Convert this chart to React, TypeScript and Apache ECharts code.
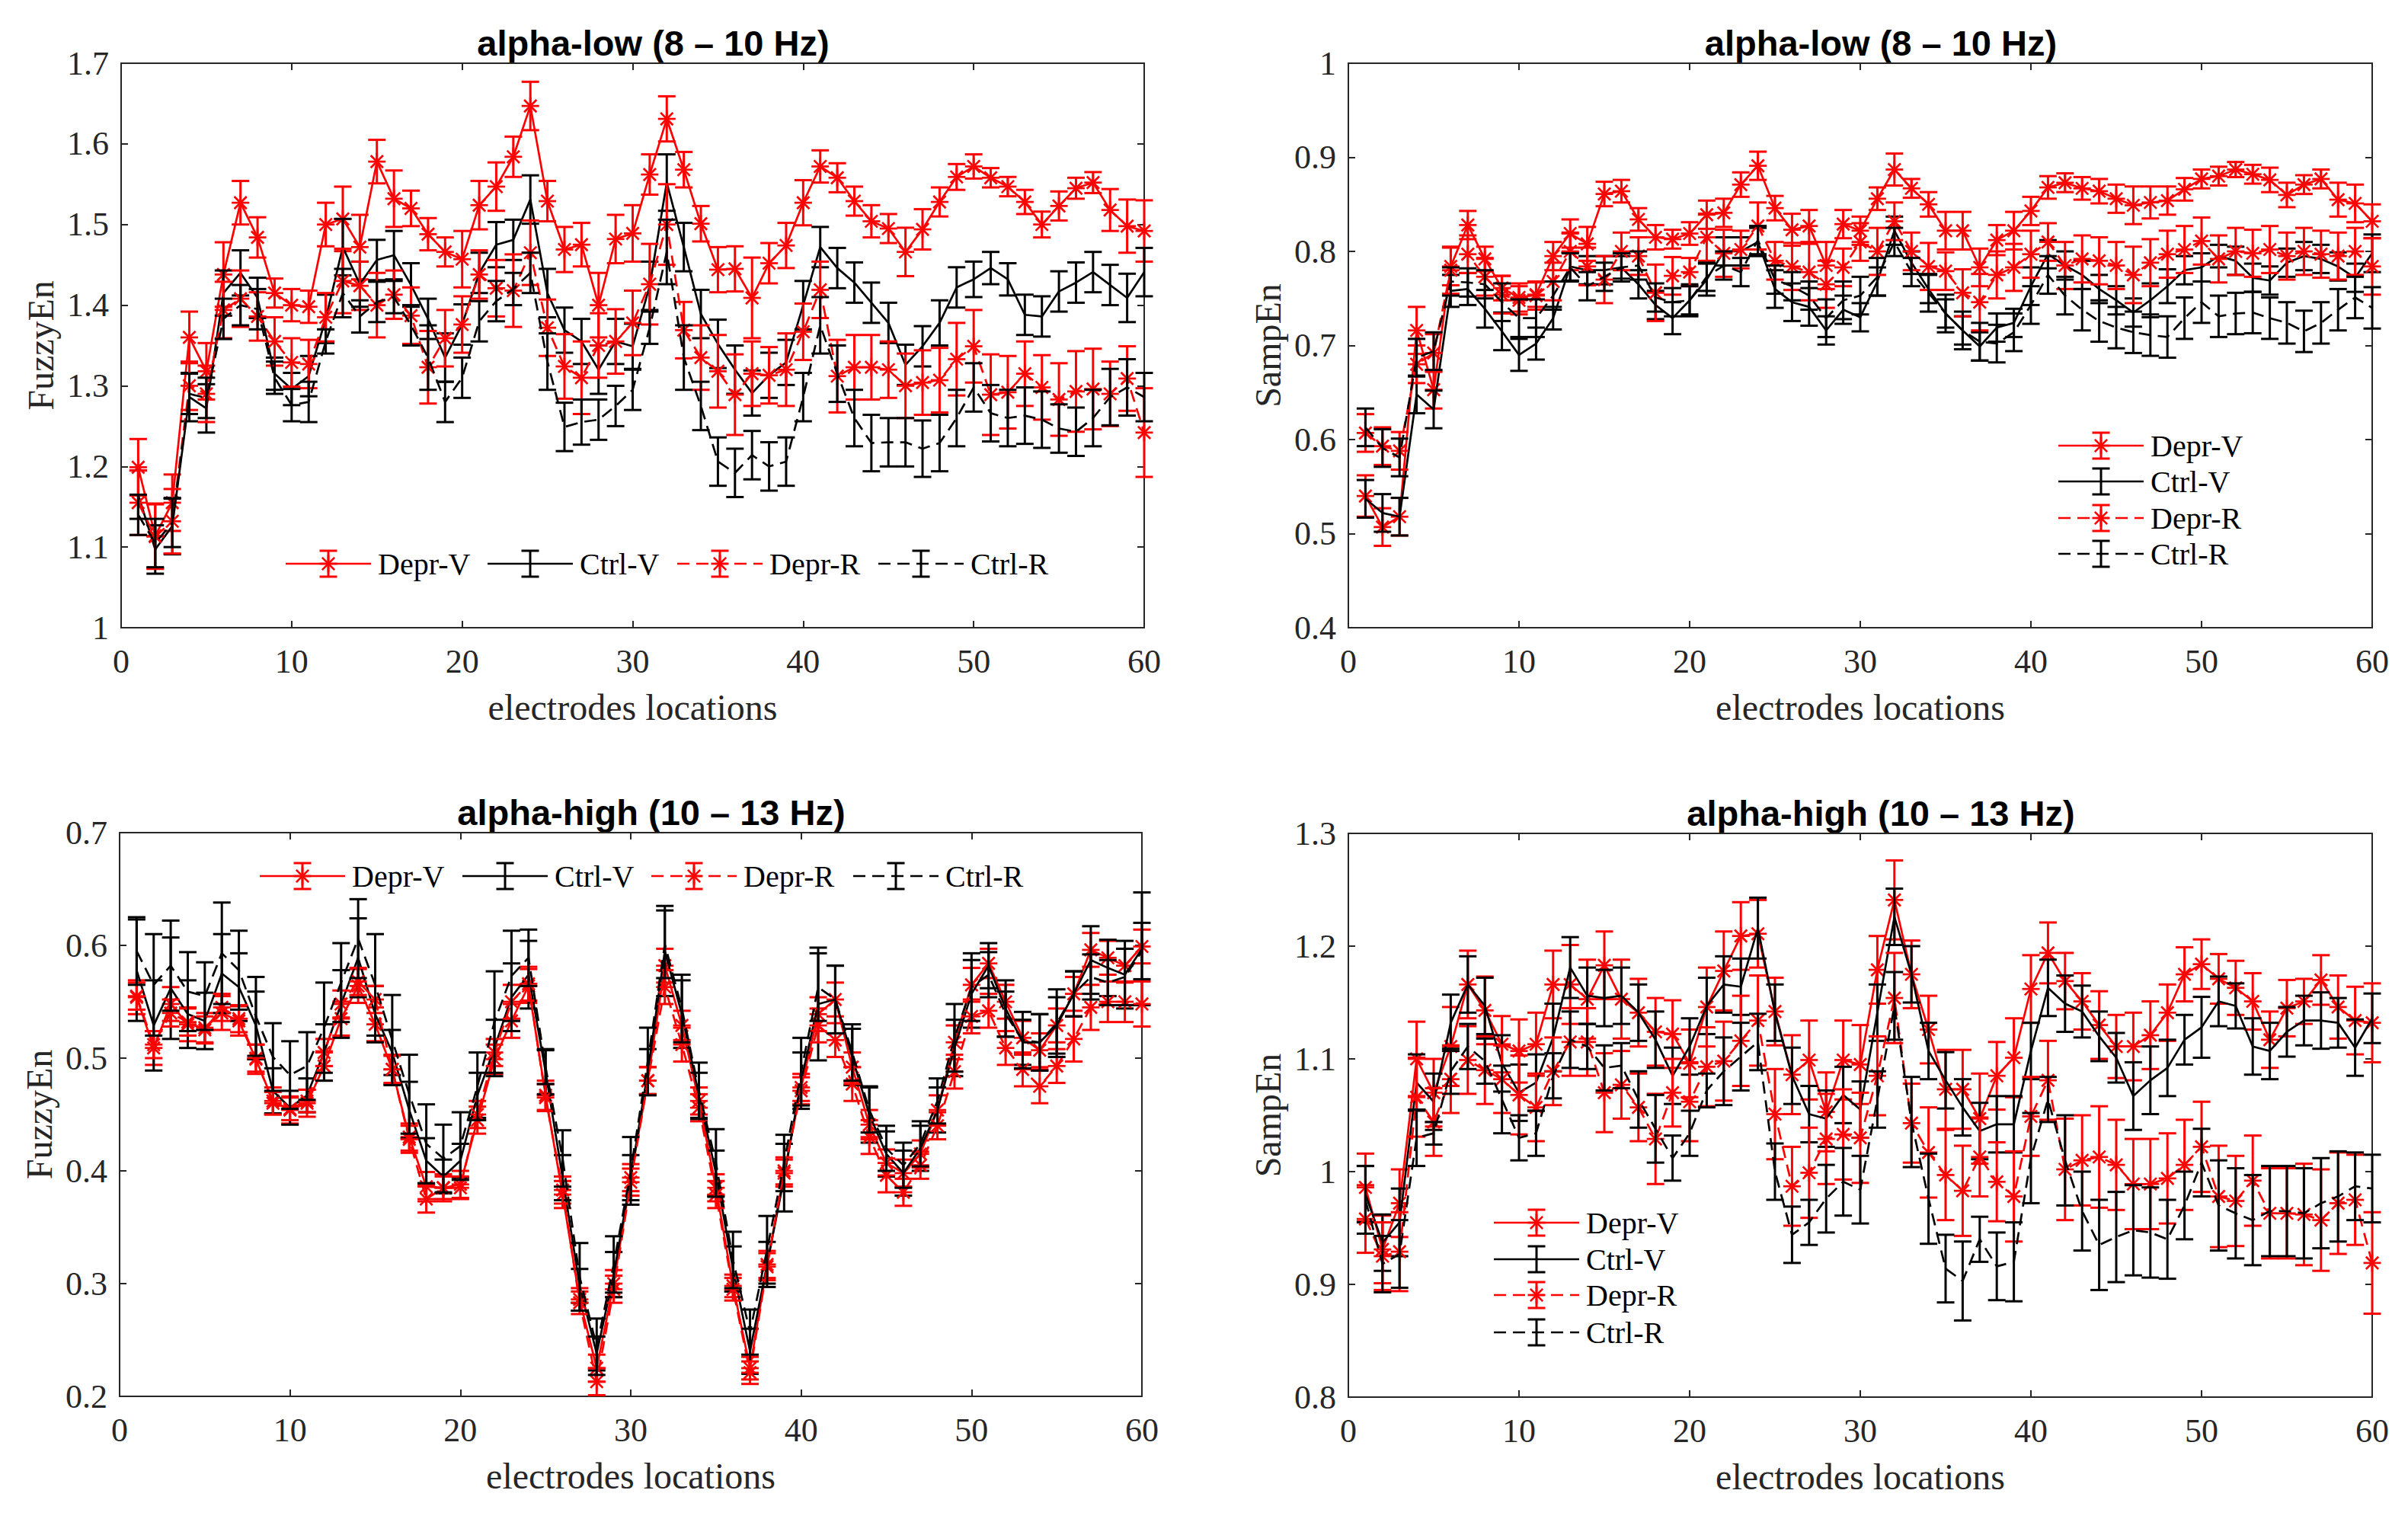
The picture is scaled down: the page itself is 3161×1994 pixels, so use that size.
import React, { useEffect, useRef } from "react";
import * as echarts from "echarts";

// ---------------- DATA ----------------
const ELECTRODES = [
  1, 2, 3, 4, 5, 6, 7, 8, 9, 10, 11, 12, 13, 14, 15, 16, 17, 18, 19, 20,
  21, 22, 23, 24, 25, 26, 27, 28, 29, 30, 31, 32, 33, 34, 35, 36, 37, 38, 39, 40,
  41, 42, 43, 44, 45, 46, 47, 48, 49, 50, 51, 52, 53, 54, 55, 56, 57, 58, 59, 60,
];
const SERIES_NAMES = ["Depr-V", "Ctrl-V", "Depr-R", "Ctrl-R"];
const PANEL_TITLES = [
  "alpha-low (8 \u2013 10 Hz)",
  "alpha-low (8 \u2013 10 Hz)",
  "alpha-high (10 \u2013 13 Hz)",
  "alpha-high (10 \u2013 13 Hz)",
];
const Y_NAMES = ["FuzzyEn", "SampEn", "FuzzyEn", "SampEn"];
const X_NAME = "electrodes locations";
const X_MIN = 0;
const X_MAX = 60;
const X_STEP = 10;
const Y_MIN = [1, 0.4, 0.2, 0.8];
const Y_MAX = [1.7, 1, 0.7, 1.3];
const Y_STEP = 0.1;

// Panel 1: alpha-low FuzzyEn
const P1_DEPR_V = [
  1.199, 1.114, 1.155, 1.36, 1.318, 1.438, 1.527, 1.484, 1.415, 1.40,
  1.398, 1.50, 1.507, 1.472, 1.578, 1.532, 1.52, 1.488, 1.466, 1.457,
  1.524, 1.547, 1.584, 1.647, 1.529, 1.469, 1.475, 1.40, 1.482, 1.489,
  1.562, 1.631, 1.568, 1.501, 1.444, 1.445, 1.409, 1.452, 1.474, 1.527,
  1.572, 1.558, 1.529, 1.504, 1.495, 1.466, 1.494, 1.528, 1.559, 1.572,
  1.558, 1.547, 1.528, 1.50, 1.523, 1.545, 1.552, 1.518, 1.498, 1.492,
];
const P1_DEPR_V_ERR = [
  0.035, 0.04, 0.035, 0.032, 0.035, 0.04, 0.027, 0.025, 0.018, 0.02,
  0.02, 0.027, 0.04, 0.04, 0.027, 0.035, 0.022, 0.02, 0.018, 0.035,
  0.03, 0.03, 0.025, 0.03, 0.025, 0.028, 0.027, 0.04, 0.03, 0.035,
  0.025, 0.028, 0.022, 0.022, 0.028, 0.028, 0.05, 0.025, 0.028, 0.028,
  0.02, 0.018, 0.018, 0.02, 0.018, 0.03, 0.025, 0.018, 0.016, 0.015,
  0.012, 0.012, 0.015, 0.016, 0.018, 0.013, 0.013, 0.026, 0.033, 0.038,
];
const P1_CTRL_V = [
  1.165, 1.097, 1.126, 1.286, 1.272, 1.415, 1.44, 1.409, 1.315, 1.296,
  1.312, 1.383, 1.472, 1.426, 1.456, 1.462, 1.425, 1.383, 1.335, 1.376,
  1.44, 1.475, 1.481, 1.531, 1.415, 1.369, 1.355, 1.32, 1.355, 1.349,
  1.424, 1.552, 1.472, 1.389, 1.352, 1.32, 1.291, 1.313, 1.329, 1.40,
  1.472, 1.446, 1.428, 1.403, 1.378, 1.326, 1.349, 1.378, 1.422, 1.432,
  1.446, 1.432, 1.388, 1.386, 1.417, 1.428, 1.441, 1.425, 1.409, 1.441,
];
const P1_CTRL_V_ERR = [
  0.03, 0.03, 0.035, 0.03, 0.03, 0.028, 0.028, 0.025, 0.02, 0.02,
  0.025, 0.03, 0.035, 0.028, 0.025, 0.03, 0.027, 0.025, 0.03, 0.025,
  0.025, 0.028, 0.025, 0.03, 0.03, 0.028, 0.028, 0.03, 0.028, 0.028,
  0.03, 0.035, 0.03, 0.03, 0.03, 0.03, 0.028, 0.028, 0.028, 0.03,
  0.025, 0.025, 0.025, 0.025, 0.025, 0.025, 0.025, 0.028, 0.025, 0.022,
  0.02, 0.02, 0.025, 0.025, 0.025, 0.025, 0.025, 0.025, 0.03, 0.03,
];
const P1_DEPR_R = [
  1.155, 1.113, 1.132, 1.30, 1.29, 1.394, 1.408, 1.386, 1.355, 1.329,
  1.327, 1.385, 1.43, 1.424, 1.40, 1.413, 1.387, 1.323, 1.359, 1.376,
  1.438, 1.421, 1.418, 1.465, 1.372, 1.324, 1.31, 1.35, 1.355, 1.378,
  1.426, 1.50, 1.369, 1.335, 1.318, 1.289, 1.315, 1.313, 1.32, 1.367,
  1.419, 1.312, 1.323, 1.323, 1.32, 1.30, 1.304, 1.307, 1.333, 1.349,
  1.289, 1.292, 1.315, 1.298, 1.283, 1.293, 1.296, 1.29, 1.309, 1.242,
];
const P1_DEPR_R_ERR = [
  0.04, 0.04, 0.04, 0.03, 0.035, 0.035, 0.035, 0.03, 0.03, 0.03,
  0.03, 0.03, 0.04, 0.03, 0.04, 0.03, 0.035, 0.045, 0.035, 0.035,
  0.03, 0.035, 0.045, 0.04, 0.035, 0.04, 0.045, 0.04, 0.04, 0.04,
  0.05, 0.05, 0.035, 0.04, 0.045, 0.05, 0.04, 0.035, 0.045, 0.035,
  0.035, 0.045, 0.04, 0.04, 0.035, 0.04, 0.04, 0.04, 0.045, 0.045,
  0.05, 0.045, 0.04, 0.04, 0.045, 0.05, 0.05, 0.04, 0.04, 0.055,
];
const P1_CTRL_R = [
  1.14, 1.105, 1.13, 1.29, 1.285, 1.383, 1.40, 1.395, 1.31, 1.276,
  1.28, 1.355, 1.415, 1.386, 1.404, 1.41, 1.375, 1.335, 1.28, 1.31,
  1.38, 1.405, 1.42, 1.44, 1.33, 1.249, 1.255, 1.258, 1.275, 1.295,
  1.372, 1.466, 1.335, 1.275, 1.206, 1.192, 1.214, 1.20, 1.206, 1.286,
  1.375, 1.315, 1.26, 1.229, 1.23, 1.23, 1.222, 1.229, 1.26, 1.298,
  1.266, 1.26, 1.263, 1.258, 1.247, 1.243, 1.26, 1.286, 1.298, 1.286,
];
const P1_CTRL_R_ERR = [
  0.025, 0.03, 0.03, 0.025, 0.025, 0.025, 0.025, 0.025, 0.02, 0.02,
  0.025, 0.015, 0.03, 0.02, 0.025, 0.02, 0.025, 0.04, 0.025, 0.025,
  0.025, 0.025, 0.02, 0.025, 0.035, 0.03, 0.028, 0.025, 0.025, 0.025,
  0.02, 0.04, 0.04, 0.03, 0.03, 0.03, 0.03, 0.03, 0.03, 0.03,
  0.035, 0.035, 0.035, 0.035, 0.03, 0.03, 0.035, 0.035, 0.035, 0.03,
  0.035, 0.035, 0.035, 0.035, 0.03, 0.03, 0.035, 0.035, 0.035, 0.03,
];

// Panel 2: alpha-low SampEn
const P2_DEPR_V = [
  0.54, 0.507, 0.518, 0.716, 0.653, 0.784, 0.828, 0.792, 0.761, 0.751,
  0.754, 0.795, 0.819, 0.808, 0.861, 0.864, 0.834, 0.815, 0.813, 0.819,
  0.839, 0.841, 0.871, 0.891, 0.846, 0.823, 0.827, 0.785, 0.829, 0.822,
  0.856, 0.887, 0.867, 0.85, 0.822, 0.822, 0.783, 0.812, 0.822, 0.843,
  0.868, 0.873, 0.867, 0.864, 0.856, 0.849, 0.852, 0.854, 0.866, 0.877,
  0.88, 0.887, 0.882, 0.876, 0.86, 0.871, 0.877, 0.855, 0.851, 0.832,
];
const P2_DEPR_V_ERR = [
  0.022, 0.02, 0.02, 0.025, 0.02, 0.02, 0.015, 0.013, 0.013, 0.015,
  0.013, 0.015, 0.015, 0.018, 0.013, 0.012, 0.012, 0.013, 0.01, 0.012,
  0.015, 0.015, 0.013, 0.015, 0.013, 0.017, 0.017, 0.025, 0.015, 0.015,
  0.012, 0.017, 0.01, 0.013, 0.02, 0.02, 0.02, 0.016, 0.02, 0.015,
  0.012, 0.01, 0.012, 0.013, 0.015, 0.02, 0.017, 0.015, 0.012, 0.01,
  0.01, 0.008, 0.01, 0.013, 0.013, 0.01, 0.01, 0.018, 0.02, 0.018,
];
const P2_CTRL_V = [
  0.537, 0.522, 0.518, 0.648, 0.632, 0.758, 0.76, 0.739, 0.715, 0.69,
  0.702, 0.729, 0.784, 0.78, 0.78, 0.783, 0.765, 0.743, 0.729, 0.748,
  0.77, 0.80, 0.80, 0.81, 0.76, 0.746, 0.741, 0.716, 0.738, 0.73,
  0.768, 0.822, 0.788, 0.76, 0.734, 0.716, 0.699, 0.719, 0.724, 0.763,
  0.797, 0.785, 0.775, 0.76, 0.748, 0.735, 0.748, 0.763, 0.78, 0.783,
  0.795, 0.79, 0.772, 0.769, 0.788, 0.795, 0.792, 0.784, 0.772, 0.798,
];
const P2_CTRL_V_ERR = [
  0.02, 0.02, 0.02, 0.02, 0.02, 0.017, 0.017, 0.02, 0.02, 0.017,
  0.017, 0.012, 0.015, 0.015, 0.015, 0.012, 0.015, 0.015, 0.017, 0.017,
  0.017, 0.015, 0.015, 0.015, 0.02, 0.02, 0.02, 0.015, 0.015, 0.015,
  0.015, 0.015, 0.012, 0.015, 0.015, 0.015, 0.015, 0.015, 0.015, 0.02,
  0.015, 0.015, 0.015, 0.015, 0.015, 0.015, 0.018, 0.018, 0.015, 0.015,
  0.012, 0.015, 0.015, 0.015, 0.015, 0.015, 0.015, 0.015, 0.015, 0.02,
];
const P2_DEPR_R = [
  0.607, 0.593, 0.588, 0.68, 0.692, 0.78, 0.797, 0.773, 0.754, 0.748,
  0.753, 0.768, 0.80, 0.784, 0.77, 0.80, 0.795, 0.756, 0.774, 0.778,
  0.815, 0.798, 0.802, 0.827, 0.79, 0.784, 0.778, 0.765, 0.783, 0.81,
  0.80, 0.832, 0.80, 0.784, 0.779, 0.756, 0.746, 0.775, 0.783, 0.797,
  0.81, 0.785, 0.792, 0.79, 0.785, 0.775, 0.788, 0.797, 0.802, 0.811,
  0.792, 0.80, 0.798, 0.802, 0.795, 0.80, 0.797, 0.795, 0.80, 0.784,
];
const P2_DEPR_R_ERR = [
  0.02, 0.02, 0.02, 0.02, 0.02, 0.025, 0.02, 0.02, 0.02, 0.015,
  0.015, 0.02, 0.02, 0.02, 0.025, 0.02, 0.02, 0.03, 0.02, 0.015,
  0.025, 0.025, 0.02, 0.025, 0.02, 0.025, 0.03, 0.025, 0.02, 0.02,
  0.025, 0.02, 0.02, 0.025, 0.02, 0.025, 0.03, 0.025, 0.025, 0.025,
  0.02, 0.025, 0.025, 0.025, 0.025, 0.03, 0.025, 0.025, 0.025, 0.025,
  0.025, 0.025, 0.025, 0.025, 0.025, 0.025, 0.025, 0.025, 0.025, 0.03,
];
const P2_CTRL_R = [
  0.613, 0.591, 0.581, 0.687, 0.694, 0.768, 0.767, 0.765, 0.746, 0.729,
  0.729, 0.753, 0.783, 0.763, 0.773, 0.783, 0.785, 0.751, 0.746, 0.748,
  0.773, 0.785, 0.778, 0.812, 0.77, 0.763, 0.753, 0.729, 0.748, 0.753,
  0.773, 0.81, 0.778, 0.756, 0.734, 0.716, 0.704, 0.702, 0.714, 0.743,
  0.775, 0.753, 0.738, 0.726, 0.719, 0.714, 0.711, 0.709, 0.729, 0.746,
  0.731, 0.734, 0.735, 0.729, 0.724, 0.715, 0.724, 0.738, 0.751, 0.74,
];
const P2_CTRL_R_ERR = [
  0.02, 0.02, 0.02, 0.02, 0.02, 0.015, 0.015, 0.015, 0.02, 0.02,
  0.02, 0.015, 0.015, 0.015, 0.015, 0.015, 0.015, 0.015, 0.015, 0.015,
  0.015, 0.015, 0.015, 0.015, 0.015, 0.015, 0.015, 0.02, 0.02, 0.02,
  0.02, 0.015, 0.015, 0.02, 0.02, 0.02, 0.02, 0.02, 0.02, 0.02,
  0.02, 0.02, 0.022, 0.022, 0.022, 0.022, 0.022, 0.022, 0.022, 0.022,
  0.022, 0.022, 0.022, 0.022, 0.022, 0.022, 0.022, 0.022, 0.022, 0.022,
];

// Panel 3: alpha-high FuzzyEn
const P3_DEPR_V = [
  0.554, 0.509, 0.548, 0.53, 0.527, 0.54, 0.533, 0.499, 0.462, 0.454,
  0.46, 0.493, 0.535, 0.564, 0.53, 0.49, 0.43, 0.386, 0.385, 0.388,
  0.445, 0.499, 0.533, 0.564, 0.467, 0.379, 0.286, 0.225, 0.30, 0.394,
  0.48, 0.582, 0.529, 0.462, 0.385, 0.298, 0.225, 0.317, 0.398, 0.474,
  0.539, 0.552, 0.492, 0.441, 0.407, 0.398, 0.415, 0.454, 0.514, 0.565,
  0.584, 0.55, 0.518, 0.507, 0.529, 0.557, 0.596, 0.589, 0.582, 0.599,
];
const P3_DEPR_V_ERR = [
  0.015, 0.015, 0.015, 0.015, 0.013, 0.015, 0.013, 0.013, 0.012, 0.012,
  0.012, 0.013, 0.015, 0.015, 0.015, 0.013, 0.012, 0.013, 0.012, 0.012,
  0.012, 0.013, 0.015, 0.015, 0.013, 0.012, 0.01, 0.012, 0.012, 0.012,
  0.012, 0.015, 0.013, 0.012, 0.012, 0.01, 0.01, 0.012, 0.012, 0.012,
  0.015, 0.015, 0.013, 0.013, 0.012, 0.012, 0.012, 0.013, 0.015, 0.015,
  0.013, 0.015, 0.015, 0.015, 0.015, 0.015, 0.015, 0.015, 0.015, 0.015,
];
const P3_CTRL_V = [
  0.578, 0.529, 0.562, 0.539, 0.533, 0.575, 0.563, 0.529, 0.471, 0.456,
  0.467, 0.505, 0.548, 0.589, 0.539, 0.505, 0.454, 0.409, 0.395, 0.409,
  0.467, 0.509, 0.554, 0.574, 0.488, 0.394, 0.298, 0.238, 0.308, 0.394,
  0.488, 0.595, 0.539, 0.467, 0.398, 0.313, 0.24, 0.317, 0.394, 0.48,
  0.548, 0.552, 0.501, 0.45, 0.415, 0.398, 0.42, 0.454, 0.509, 0.557,
  0.582, 0.544, 0.514, 0.514, 0.529, 0.557, 0.587, 0.58, 0.574, 0.597,
];
const P3_CTRL_V_ERR = [
  0.045, 0.04, 0.045, 0.03, 0.025, 0.035, 0.03, 0.03, 0.02, 0.015,
  0.015, 0.025, 0.03, 0.035, 0.025, 0.02, 0.025, 0.02, 0.015, 0.015,
  0.02, 0.025, 0.03, 0.03, 0.02, 0.02, 0.015, 0.015, 0.02, 0.02,
  0.02, 0.04, 0.03, 0.02, 0.02, 0.02, 0.02, 0.02, 0.03, 0.025,
  0.05, 0.03, 0.025, 0.025, 0.02, 0.02, 0.02, 0.02, 0.025, 0.03,
  0.02, 0.025, 0.02, 0.025, 0.025, 0.02, 0.03, 0.025, 0.03, 0.05,
];
const P3_DEPR_R = [
  0.555, 0.512, 0.54, 0.532, 0.525, 0.545, 0.535, 0.50, 0.46, 0.455,
  0.462, 0.505, 0.548, 0.568, 0.552, 0.49, 0.428, 0.375, 0.385, 0.385,
  0.45, 0.505, 0.55, 0.566, 0.465, 0.383, 0.283, 0.213, 0.295, 0.39,
  0.48, 0.563, 0.512, 0.456, 0.379, 0.295, 0.221, 0.315, 0.40, 0.471,
  0.529, 0.516, 0.477, 0.43, 0.396, 0.381, 0.405, 0.44, 0.488, 0.537,
  0.542, 0.509, 0.49, 0.475, 0.493, 0.517, 0.545, 0.55, 0.55, 0.548,
];
const P3_DEPR_R_ERR = [
  0.012, 0.012, 0.012, 0.012, 0.012, 0.012, 0.012, 0.012, 0.01, 0.01,
  0.01, 0.012, 0.012, 0.012, 0.012, 0.012, 0.012, 0.012, 0.01, 0.01,
  0.012, 0.012, 0.015, 0.015, 0.012, 0.012, 0.01, 0.012, 0.012, 0.012,
  0.012, 0.015, 0.015, 0.012, 0.012, 0.01, 0.01, 0.012, 0.012, 0.012,
  0.015, 0.015, 0.015, 0.015, 0.015, 0.012, 0.012, 0.012, 0.015, 0.015,
  0.015, 0.015, 0.015, 0.015, 0.015, 0.02, 0.02, 0.018, 0.018, 0.02,
];
const P3_CTRL_R = [
  0.595, 0.565, 0.582, 0.559, 0.555, 0.593, 0.578, 0.537, 0.501, 0.485,
  0.493, 0.527, 0.567, 0.606, 0.565, 0.516, 0.468, 0.424, 0.411, 0.422,
  0.475, 0.532, 0.573, 0.589, 0.492, 0.411, 0.306, 0.244, 0.317, 0.40,
  0.497, 0.601, 0.544, 0.471, 0.407, 0.321, 0.257, 0.33, 0.407, 0.488,
  0.563, 0.552, 0.505, 0.454, 0.42, 0.405, 0.424, 0.462, 0.518, 0.563,
  0.574, 0.539, 0.516, 0.514, 0.531, 0.557, 0.572, 0.567, 0.572, 0.595,
];
const P3_CTRL_R_ERR = [
  0.03, 0.045, 0.04, 0.035, 0.03, 0.045, 0.035, 0.035, 0.03, 0.03,
  0.03, 0.04, 0.035, 0.035, 0.045, 0.04, 0.035, 0.035, 0.03, 0.03,
  0.03, 0.045, 0.04, 0.025, 0.015, 0.025, 0.03, 0.025, 0.025, 0.03,
  0.03, 0.03, 0.03, 0.025, 0.03, 0.025, 0.02, 0.03, 0.025, 0.03,
  0.03, 0.03, 0.025, 0.02, 0.02, 0.02, 0.02, 0.02, 0.03, 0.03,
  0.02, 0.02, 0.025, 0.025, 0.03, 0.02, 0.02, 0.02, 0.025, 0.025,
];

// Panel 4: alpha-high SampEn
const P4_DEPR_V = [
  0.986, 0.931, 0.972, 1.10, 1.07, 1.111, 1.166, 1.143, 1.113, 1.107,
  1.113, 1.166, 1.166, 1.153, 1.183, 1.153, 1.141, 1.124, 1.122, 1.096,
  1.146, 1.178, 1.209, 1.211, 1.142, 1.086, 1.099, 1.053, 1.099, 1.095,
  1.179, 1.241, 1.175, 1.126, 1.073, 1.073, 1.047, 1.085, 1.101, 1.162,
  1.194, 1.169, 1.151, 1.13, 1.111, 1.111, 1.121, 1.141, 1.175, 1.184,
  1.171, 1.163, 1.151, 1.117, 1.145, 1.151, 1.17, 1.146, 1.134, 1.132,
];
const P4_DEPR_V_ERR = [
  0.03, 0.03, 0.03, 0.033, 0.03, 0.035, 0.03, 0.03, 0.025, 0.028,
  0.028, 0.03, 0.035, 0.035, 0.03, 0.035, 0.03, 0.03, 0.03, 0.03,
  0.035, 0.035, 0.03, 0.03, 0.03, 0.035, 0.035, 0.035, 0.035, 0.035,
  0.03, 0.035, 0.03, 0.03, 0.035, 0.035, 0.04, 0.03, 0.035, 0.03,
  0.027, 0.025, 0.025, 0.03, 0.028, 0.03, 0.03, 0.025, 0.024, 0.022,
  0.022, 0.024, 0.025, 0.025, 0.025, 0.02, 0.022, 0.028, 0.03, 0.035,
];
const P4_CTRL_V = [
  0.98, 0.937, 0.955, 1.079, 1.062, 1.132, 1.166, 1.147, 1.096, 1.07,
  1.079, 1.119, 1.181, 1.156, 1.154, 1.156, 1.141, 1.117, 1.085, 1.111,
  1.147, 1.166, 1.164, 1.216, 1.141, 1.085, 1.051, 1.047, 1.068, 1.055,
  1.141, 1.226, 1.175, 1.107, 1.081, 1.057, 1.036, 1.042, 1.042, 1.107,
  1.163, 1.149, 1.142, 1.12, 1.101, 1.067, 1.081, 1.092, 1.117, 1.128,
  1.151, 1.147, 1.111, 1.107, 1.124, 1.134, 1.134, 1.132, 1.11, 1.136,
];
const P4_CTRL_V_ERR = [
  0.025, 0.025, 0.03, 0.025, 0.025, 0.025, 0.025, 0.025, 0.025, 0.025,
  0.025, 0.03, 0.027, 0.025, 0.025, 0.025, 0.025, 0.025, 0.025, 0.025,
  0.025, 0.025, 0.025, 0.027, 0.025, 0.025, 0.025, 0.025, 0.025, 0.025,
  0.025, 0.025, 0.025, 0.025, 0.025, 0.025, 0.025, 0.025, 0.025, 0.025,
  0.025, 0.025, 0.023, 0.022, 0.022, 0.03, 0.03, 0.025, 0.022, 0.027,
  0.022, 0.02, 0.025, 0.025, 0.022, 0.022, 0.025, 0.022, 0.025, 0.022,
];
const P4_DEPR_R = [
  0.958, 0.925, 0.929, 1.066, 1.044, 1.082, 1.099, 1.09, 1.082, 1.068,
  1.057, 1.089, 1.115, 1.115, 1.07, 1.077, 1.057, 1.029, 1.07, 1.062,
  1.093, 1.098, 1.116, 1.134, 1.051, 0.987, 0.999, 1.029, 1.033, 1.03,
  1.085, 1.154, 1.043, 1.017, 0.997, 0.983, 1.013, 0.991, 0.978, 1.049,
  1.081, 1.002, 1.01, 1.013, 1.006, 0.989, 0.989, 0.994, 1.006, 1.022,
  0.978, 0.974, 0.992, 0.963, 0.963, 0.962, 0.957, 0.972, 0.975, 0.919,
];
const P4_DEPR_R_ERR = [
  0.03, 0.03, 0.035, 0.035, 0.03, 0.03, 0.03, 0.03, 0.03, 0.035,
  0.03, 0.03, 0.03, 0.03, 0.035, 0.03, 0.03, 0.04, 0.03, 0.035,
  0.035, 0.035, 0.04, 0.04, 0.04, 0.035, 0.04, 0.04, 0.04, 0.04,
  0.035, 0.04, 0.035, 0.04, 0.04, 0.04, 0.035, 0.035, 0.04, 0.035,
  0.035, 0.045, 0.04, 0.045, 0.04, 0.04, 0.04, 0.04, 0.04, 0.04,
  0.045, 0.04, 0.04, 0.04, 0.04, 0.045, 0.045, 0.045, 0.04, 0.045,
];
const P4_CTRL_R = [
  0.975, 0.918, 0.927, 1.03, 1.034, 1.089, 1.111, 1.098, 1.064, 1.03,
  1.034, 1.085, 1.117, 1.111, 1.092, 1.094, 1.064, 1.038, 1.012, 1.034,
  1.072, 1.089, 1.102, 1.115, 1.0, 0.944, 0.955, 0.976, 0.991, 0.984,
  1.064, 1.147, 1.044, 0.976, 0.914, 0.903, 0.94, 0.916, 0.92, 1.012,
  1.064, 1.01, 0.965, 0.935, 0.942, 0.948, 0.946, 0.94, 0.97, 1.008,
  0.97, 0.963, 0.957, 0.965, 0.965, 0.963, 0.972, 0.978, 0.987, 0.985,
];
const P4_CTRL_R_ERR = [
  0.03, 0.025, 0.03, 0.025, 0.01, 0.02, 0.02, 0.02, 0.03, 0.02,
  0.02, 0.02, 0.025, 0.02, 0.02, 0.02, 0.025, 0.03, 0.02, 0.02,
  0.015, 0.03, 0.03, 0.025, 0.025, 0.025, 0.02, 0.03, 0.03, 0.03,
  0.025, 0.03, 0.04, 0.04, 0.03, 0.035, 0.02, 0.03, 0.035, 0.04,
  0.02, 0.04, 0.035, 0.04, 0.04, 0.04, 0.04, 0.035, 0.03, 0.03,
  0.04, 0.04, 0.04, 0.04, 0.04, 0.04, 0.04, 0.04, 0.03, 0.03,
];

const PANEL_VALUES = [
  [P1_DEPR_V, P1_CTRL_V, P1_DEPR_R, P1_CTRL_R],
  [P2_DEPR_V, P2_CTRL_V, P2_DEPR_R, P2_CTRL_R],
  [P3_DEPR_V, P3_CTRL_V, P3_DEPR_R, P3_CTRL_R],
  [P4_DEPR_V, P4_CTRL_V, P4_DEPR_R, P4_CTRL_R],
];
const PANEL_ERRORS = [
  [P1_DEPR_V_ERR, P1_CTRL_V_ERR, P1_DEPR_R_ERR, P1_CTRL_R_ERR],
  [P2_DEPR_V_ERR, P2_CTRL_V_ERR, P2_DEPR_R_ERR, P2_CTRL_R_ERR],
  [P3_DEPR_V_ERR, P3_CTRL_V_ERR, P3_DEPR_R_ERR, P3_CTRL_R_ERR],
  [P4_DEPR_V_ERR, P4_CTRL_V_ERR, P4_DEPR_R_ERR, P4_CTRL_R_ERR],
];

// ---------------- STYLE / LAYOUT ----------------
const W = 3161;
const H = 1994;
const SERIF = '"Liberation Serif", "Times New Roman", serif';
const SANS = '"Liberation Sans", Arial, sans-serif';
const AXIS_COLOR = "#262626";
const RED = "#ff0000";
const BLACK = "#000000";
const DASH = [16, 9];
const CAP = 11.5;
const MARK = 11.5;
const LINE_W = 2.7;
const BAR_W = 3;
const MARK_W = 2.7;
const TITLE_DX = 27;

const STYLES = [
  { color: RED, dashed: false, marker: true },
  { color: BLACK, dashed: false, marker: false },
  { color: RED, dashed: true, marker: true },
  { color: BLACK, dashed: true, marker: false },
];

const GRIDS = [
  { left: 159, top: 83, width: 1343, height: 741 },
  { left: 1770, top: 83, width: 1344, height: 741 },
  { left: 157, top: 1093, width: 1342, height: 740 },
  { left: 1770, top: 1094, width: 1344, height: 740 },
];

const LEGEND_LAYOUT = [
  { dx: [216, 481, 730, 994], dy: [657, 657, 657, 657] },
  { dx: [932, 932, 932, 932], dy: [502, 549, 597, 644] },
  { dx: [184, 450, 698, 963], dy: [57, 57, 57, 57] },
  { dx: [191, 191, 191, 191], dy: [511, 559, 606, 655] },
];
const LEGEND_LINE = 112;
const LEGEND_TEXT_DX = 121;

function seg(x1: number, y1: number, x2: number, y2: number, color: string, w: number, dash?: number[]) {
  const style: any = { stroke: color, lineWidth: w, fill: null };
  if (dash) style.lineDash = dash;
  return { type: "line", shape: { x1, y1, x2, y2 }, style, silent: true };
}

function markerLines(cx: number, cy: number, color: string) {
  const m = MARK;
  const d = MARK * 0.7071;
  return [
    seg(cx - m, cy, cx + m, cy, color, MARK_W),
    seg(cx, cy - m, cx, cy + m, color, MARK_W),
    seg(cx - d, cy - d, cx + d, cy + d, color, MARK_W),
    seg(cx - d, cy + d, cx + d, cy - d, color, MARK_W),
  ];
}

function makeErrRender(color: string, marker: boolean) {
  return (_params: any, api: any) => {
    const x = api.value(0);
    const y = api.value(1);
    const e = api.value(2);
    const c = api.coord([x, y]);
    const t = api.coord([x, y + e]);
    const b = api.coord([x, y - e]);
    const children: any[] = [
      seg(c[0], t[1], c[0], b[1], color, BAR_W),
      seg(c[0] - CAP, t[1], c[0] + CAP, t[1], color, BAR_W),
      seg(c[0] - CAP, b[1], c[0] + CAP, b[1], color, BAR_W),
    ];
    if (marker) children.push(...markerLines(c[0], c[1], color));
    return { type: "group", children };
  };
}

function fmt(v: number) {
  return String(Math.round(v * 10) / 10);
}

function buildOption() {
  const axisLine = { show: true, onZero: false, lineStyle: { color: AXIS_COLOR, width: 2 } };
  const axisTick = { show: true, inside: true, length: 9, lineStyle: { color: AXIS_COLOR, width: 2 } };
  const xAxis: any[] = [];
  const yAxis: any[] = [];
  const series: any[] = [];
  const graphic: any[] = [];

  GRIDS.forEach((g, gi) => {
    xAxis.push({
      type: "value", gridIndex: gi, position: "bottom",
      min: X_MIN, max: X_MAX, interval: X_STEP,
      name: X_NAME, nameLocation: "middle", nameGap: 80,
      nameTextStyle: { fontFamily: SERIF, fontSize: 48, color: AXIS_COLOR },
      axisLine, axisTick,
      axisLabel: { show: true, margin: 22, fontFamily: SERIF, fontSize: 44, color: AXIS_COLOR, showMinLabel: true, showMaxLabel: true },
      splitLine: { show: false },
    });
    xAxis.push({
      type: "value", gridIndex: gi, position: "top",
      min: X_MIN, max: X_MAX, interval: X_STEP,
      axisLine, axisTick, axisLabel: { show: false }, splitLine: { show: false },
    });
    yAxis.push({
      type: "value", gridIndex: gi, position: "left",
      min: Y_MIN[gi], max: Y_MAX[gi], interval: Y_STEP,
      name: Y_NAMES[gi], nameLocation: "middle", nameGap: 82,
      nameTextStyle: { fontFamily: SERIF, fontSize: 48, color: AXIS_COLOR },
      axisLine, axisTick,
      axisLabel: { show: true, margin: 16, fontFamily: SERIF, fontSize: 44, color: AXIS_COLOR, formatter: fmt, showMinLabel: true, showMaxLabel: true },
      splitLine: { show: false },
    });
    yAxis.push({
      type: "value", gridIndex: gi, position: "right",
      min: Y_MIN[gi], max: Y_MAX[gi], interval: Y_STEP,
      axisLine, axisTick, axisLabel: { show: false }, splitLine: { show: false },
    });

    PANEL_VALUES[gi].forEach((vals, k) => {
      const st = STYLES[k];
      const errs = PANEL_ERRORS[gi][k];
      series.push({
        type: "line", name: SERIES_NAMES[k],
        xAxisIndex: 2 * gi, yAxisIndex: 2 * gi,
        data: ELECTRODES.map((x, i) => [x, vals[i]]),
        showSymbol: false, symbol: "none", silent: true,
        lineStyle: { color: st.color, width: LINE_W, type: st.dashed ? DASH : "solid" },
        z: 10 + 2 * k,
      });
      series.push({
        type: "custom", name: SERIES_NAMES[k] + " error",
        xAxisIndex: 2 * gi, yAxisIndex: 2 * gi,
        data: ELECTRODES.map((x, i) => [x, vals[i], errs[i]]),
        encode: { x: 0, y: 1 },
        renderItem: makeErrRender(st.color, st.marker),
        clip: false, silent: true,
        z: 11 + 2 * k,
      });
    });

    // title
    graphic.push({
      type: "text",
      x: g.left + g.width / 2 + TITLE_DX,
      y: g.top - 27,
      silent: true,
      style: {
        text: PANEL_TITLES[gi],
        font: `bold 47px ${SANS}`,
        fill: BLACK,
        align: "center", textAlign: "center",
        verticalAlign: "middle", textVerticalAlign: "middle",
      },
    });

    // legend
    const lay = LEGEND_LAYOUT[gi];
    SERIES_NAMES.forEach((name, k) => {
      const st = STYLES[k];
      const x0 = g.left + lay.dx[k];
      const y0 = g.top + lay.dy[k];
      const cx = x0 + LEGEND_LINE / 2;
      graphic.push(seg(x0, y0, x0 + LEGEND_LINE, y0, st.color, LINE_W, st.dashed ? DASH : undefined));
      graphic.push(seg(cx, y0 - 17, cx, y0 + 17, st.color, BAR_W));
      graphic.push(seg(cx - CAP, y0 - 17, cx + CAP, y0 - 17, st.color, BAR_W));
      graphic.push(seg(cx - CAP, y0 + 17, cx + CAP, y0 + 17, st.color, BAR_W));
      if (st.marker) graphic.push(...markerLines(cx, y0, st.color));
      graphic.push({
        type: "text",
        x: x0 + LEGEND_TEXT_DX,
        y: y0,
        silent: true,
        style: {
          text: name,
          font: `40px ${SERIF}`,
          fill: BLACK,
          align: "left", textAlign: "left",
          verticalAlign: "middle", textVerticalAlign: "middle",
        },
      });
    });
  });

  return {
    animation: false,
    backgroundColor: "#ffffff",
    textStyle: { fontFamily: SERIF },
    grid: GRIDS.map((g) => ({ left: g.left, top: g.top, width: g.width, height: g.height, containLabel: false })),
    xAxis,
    yAxis,
    series,
    graphic,
  };
}

export default function App() {
  const ref = useRef<HTMLDivElement | null>(null);
  useEffect(() => {
    if (!ref.current) return;
    const chart = echarts.init(ref.current, null, { renderer: "svg", width: W, height: H });
    chart.setOption(buildOption() as any);
    return () => {
      chart.dispose();
    };
  }, []);
  return (
    <div
      ref={ref}
      style={{ position: "fixed", left: 0, top: 0, width: W + "px", height: H + "px", background: "#fff" }}
    />
  );
}
